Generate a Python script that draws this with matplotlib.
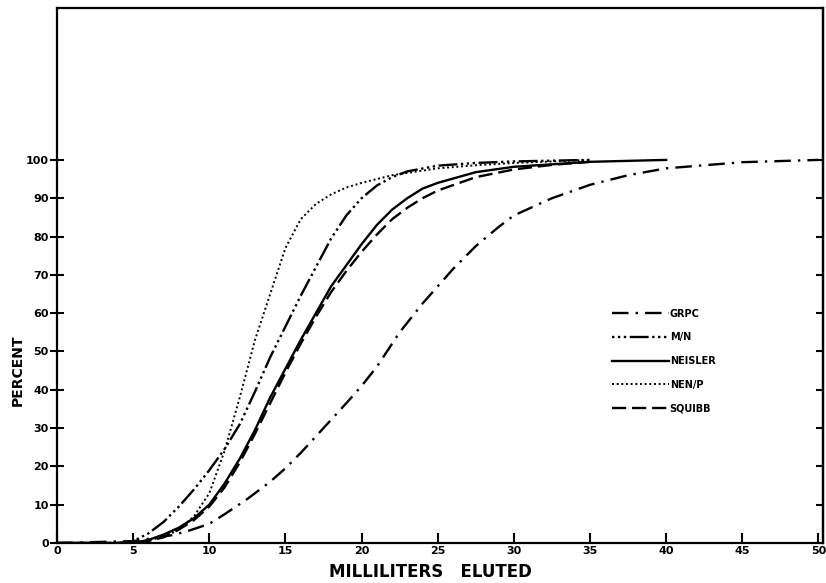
import matplotlib.pyplot as plt

# 溶出曲線データ
grpc_x = [0, 5, 7.5, 8.5, 10, 11, 12.5, 14, 15, 16, 17.5, 19, 20, 21, 22.5, 24, 25, 26, 27.5, 29, 30, 32.5, 35, 37.5, 40, 45, 50]
grpc_y = [0, 0.5, 2, 3, 5, 7.5, 11.5, 16, 19.5, 23.5, 30, 36.5, 41, 46, 55, 62.5, 67, 71.5, 77.5, 82.5, 85.5, 90, 93.5, 96, 97.8, 99.4, 100]

mn_x = [0, 4, 5, 6, 7, 8, 9, 10, 11, 12, 13, 14, 15, 16, 17, 18, 19, 20, 21, 22, 23, 25, 27.5, 30, 35]
mn_y = [0, 0, 0.5, 2.5, 5.5, 9.5, 14, 19, 24.5, 31, 39.5, 48.5, 56.5, 64.5, 72, 79.5, 85.5, 90, 93.3, 95.5, 97, 98.5, 99.2, 99.6, 100]

neisler_x = [0, 5, 6, 7, 8, 9, 10, 11, 12, 13, 14, 15, 16, 17, 18, 19, 20, 21, 22, 23, 24, 25, 27.5, 30, 35, 40]
neisler_y = [0, 0, 0.8, 2.2, 4, 6.5, 10, 15.5, 22, 29.5, 38, 45.5, 53, 60, 67, 72.5, 78, 83, 87, 90, 92.5, 94, 96.8, 98.2, 99.5, 100]

nenp_x = [0, 5, 7, 8, 9, 10, 11, 12, 13, 14, 15, 16, 17, 18, 19, 20, 22, 25, 27.5, 30, 35]
nenp_y = [0, 0, 1.5, 3.5, 7, 13, 24, 38, 53, 65, 77, 84.5, 88.5, 91, 92.8, 94, 96, 97.8, 98.6, 99.2, 100]

squibb_x = [0, 5, 6, 7, 8, 9, 10, 11, 12, 13, 14, 15, 16, 17, 18, 19, 20, 21, 22, 23, 24, 25, 27.5, 30, 32.5, 35]
squibb_y = [0, 0, 0.5, 1.5, 3.5, 6, 9.5, 14.5, 21, 28.5, 36.5, 44.5, 52, 59, 65.5, 71, 76, 80.5, 84.5, 87.5, 90, 92, 95.5, 97.5, 98.7, 99.5]

x_ticks = [0, 5, 10, 15, 20, 25, 30, 35, 40, 45, 50]
y_ticks = [0, 10, 20, 30, 40, 50, 60, 70, 80, 90, 100]

fig = plt.figure(figsize=(8.26, 5.83), dpi=100)
ax = fig.add_axes([0.069, 0.0686, 0.9274, 0.918])

lw = 1.7
ax.plot(grpc_x, grpc_y, color='black', lw=lw, ls=(0, (7, 3, 1, 3)), label='GRPC')
ax.plot(mn_x, mn_y, color='black', lw=lw, ls=(0, (1, 1.5, 1, 1.5, 1, 1.5, 8, 1.5)), label='M/N')
ax.plot(neisler_x, neisler_y, color='black', lw=lw, ls='-', label='NEISLER')
ax.plot(nenp_x, nenp_y, color='black', lw=1.4, ls=(0, (1, 1.4)), label='NEN/P')
ax.plot(squibb_x, squibb_y, color='black', lw=lw, ls=(0, (6, 2.5)), label='SQUIBB')

ax.set_xlim(0, 50.3)
ax.set_ylim(0, 139.7)
ax.set_xticks(x_ticks)
ax.set_yticks(y_ticks)
ax.tick_params(axis='x', direction='in', length=7, width=1.5, labelsize=8, pad=2)
ax.tick_params(axis='y', direction='inout', length=10, width=1.5, labelsize=8, pad=1)
for lab in ax.get_xticklabels() + ax.get_yticklabels():
    lab.set_fontweight('bold')
for s in ax.spines.values():
    s.set_linewidth(1.6)

# 右側の目盛り (内向き)
sec = ax.secondary_yaxis('right')
sec.set_yticks(y_ticks[1:])
sec.tick_params(direction='in', length=5, width=1.5, labelright=False)
sec.spines['right'].set_linewidth(1.6)

ax.set_xlabel('MILLILITERS   ELUTED', fontsize=12, fontweight='bold')
ax.xaxis.set_label_coords(0.487, -0.055)
ax.xaxis.label.set_va('center')
ax.set_ylabel('PERCENT', fontsize=10, fontweight='bold')
ax.yaxis.set_label_coords(-0.042, 0.323)

ax.legend(loc='upper left', bbox_to_anchor=(0.7135, 0.454), frameon=False,
          handlelength=5.8, handletextpad=0.1, labelspacing=1.4,
          prop={'size': 7, 'weight': 'bold'})

fig.savefig('out.png', dpi=100)
